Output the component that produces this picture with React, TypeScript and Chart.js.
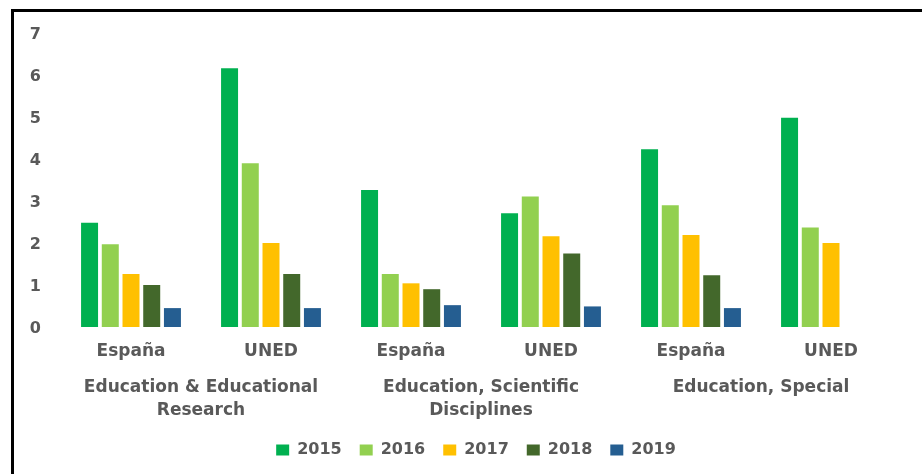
import React, { useEffect, useRef } from "react";
import { Chart, registerables } from "chart.js";

Chart.register(...registerables);

const categories = ["España", "UNED", "España", "UNED", "España", "UNED"];
const groupLabels = [
  ["Education & Educational", "Research"],
  ["Education, Scientific", "Disciplines"],
  ["Education, Special"],
];
const years = ["2015", "2016", "2017", "2018", "2019"];
const v2015 = [2.48, 6.16, 3.26, 2.71, 4.23, 4.98];
const v2016 = [1.97, 3.9, 1.26, 3.11, 2.9, 2.37];
const v2017 = [1.26, 2.0, 1.04, 2.16, 2.19, 2.0];
const v2018 = [1.0, 1.26, 0.9, 1.75, 1.23, null];
const v2019 = [0.45, 0.45, 0.52, 0.49, 0.45, null];
const seriesValues = [v2015, v2016, v2017, v2018, v2019];
const colors = ["#00B050", "#92D050", "#FFC000", "#43682B", "#255E91"];
const yTicks = [0, 1, 2, 3, 4, 5, 6, 7];

const textColor = "#595959";
const family = "'DejaVu Sans', sans-serif";

const legendShift = {
  id: "legendShift",
  afterLayout(chart: any) {
    const lg = chart.legend;
    if (lg) lg.left += 31;
  },
};

export default function App() {
  const canvasRef = useRef<HTMLCanvasElement | null>(null);

  useEffect(() => {
    document.body.style.margin = "0";
    const canvas = canvasRef.current;
    if (!canvas) return;
    const chart = new Chart(canvas, {
      type: "bar",
      data: {
        labels: categories,
        datasets: years.map((y, i) => ({
          label: y,
          data: seriesValues[i],
          backgroundColor: colors[i],
          borderWidth: 0,
          categoryPercentage: 0.74,
          barPercentage: 0.82,
          xAxisID: "x",
        })),
      },
      plugins: [legendShift],
      options: {
        animation: false,
        responsive: false,
        maintainAspectRatio: false,
        layout: { padding: { left: 20, right: 21, top: 33, bottom: 6 } },
        plugins: {
          tooltip: { enabled: false },
          legend: {
            position: "bottom",
            labels: {
              boxWidth: 13,
              boxHeight: 11,
              padding: 18,
              color: textColor,
              font: { family, size: 16, weight: "bold" },
            },
          },
        },
        scales: {
          y: {
            min: yTicks[0],
            max: yTicks[yTicks.length - 1],
            ticks: {
              stepSize: 1,
              padding: 20,
              labelOffset: 2,
              color: textColor,
              font: { family, size: 16, weight: "bold" },
            },
            grid: { display: false, drawTicks: false },
            border: { display: false },
            afterFit: (scale: any) => {
              scale.width = 41;
            },
          },
          x: {
            position: "bottom",
            weight: 0,
            ticks: {
              padding: 14,
              color: textColor,
              autoSkip: false,
              maxRotation: 0,
              font: { family, size: 17, weight: "bold" },
            },
            grid: { display: false, drawTicks: false },
            border: { display: false },
            afterFit: (scale: any) => {
              scale.height = 36;
            },
          },
          x2: {
            type: "category",
            position: "bottom",
            weight: 1,
            offset: true,
            labels: groupLabels as any,
            ticks: {
              padding: 14,
              color: textColor,
              autoSkip: false,
              maxRotation: 0,
              font: { family, size: 17, weight: "bold", lineHeight: 1.3 },
            },
            grid: { display: false, drawTicks: false },
            border: { display: false },
            afterFit: (scale: any) => {
              scale.height = 61;
            },
          },
        },
      } as any,
    });
    return () => chart.destroy();
  }, []);

  return (
    <div style={{ position: "fixed", left: 0, top: 0, width: 922, height: 474, background: "#fff", overflow: "hidden" }}>
      <canvas ref={canvasRef} width={922} height={474} style={{ position: "absolute", left: 0, top: 0, width: 922, height: 474 }} />
      <div
        style={{
          position: "absolute",
          left: 11,
          top: 9,
          width: 960,
          height: 500,
          borderTop: "3px solid #000",
          borderLeft: "3px solid #000",
          pointerEvents: "none",
        }}
      />
    </div>
  );
}
